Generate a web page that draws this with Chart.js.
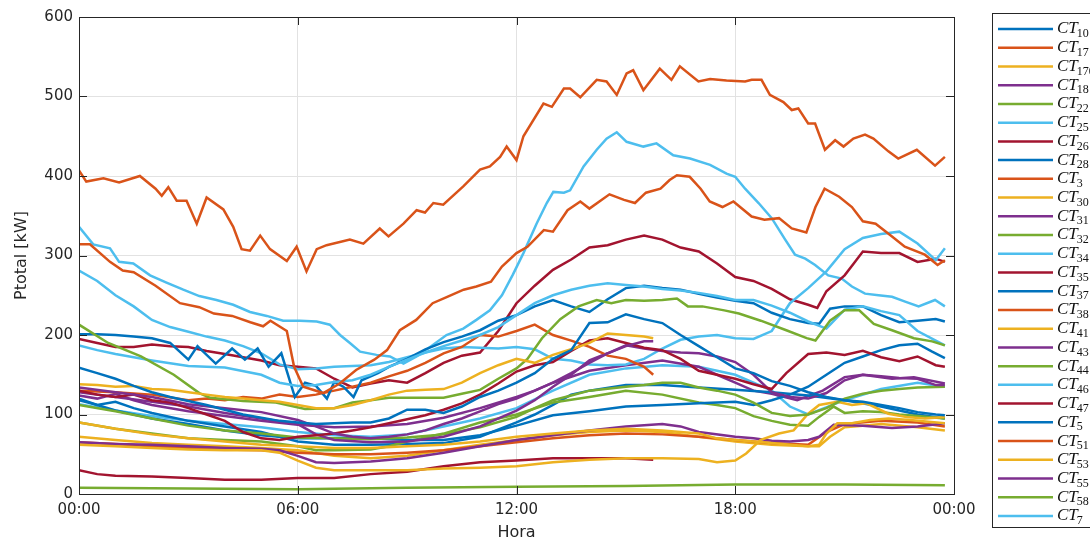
<!DOCTYPE html>
<html>
<head>
<meta charset="utf-8">
<script src="https://cdn.jsdelivr.net/npm/chart.js@4"></script>
<style>
  body { margin: 0; background: #fff; }
  canvas { display: block; }
</style>
</head>
<body>
<canvas id="powerChart" width="1090" height="545"></canvas>
<script>
// hour of day, kW
const ct10 = [[0,159],[0.5,152],[1,145],[1.5,136],[2,128],[2.5,122],[3,117],[3.5,112],[4,106],[4.5,100],[5,96],[5.5,92],[6,90],[6.5,88],[7,89],[7.5,90],[8,90],[8.5,95],[9,106],[9.5,106],[10,102],[10.5,110],[11,122],[11.5,130],[12,140],[12.5,152],[13,170],[13.5,181],[14,215],[14.5,216],[15,226],[15.5,220],[16,215],[16.5,200],[17,186],[17.5,172],[18,158],[18.5,152],[19,142],[19.5,136],[20,128],[20.5,122],[21,118],[21.5,116],[22,112],[22.5,108],[23,103],[23.5,100],[23.75,99]]
const ct17 = [[0,314],[0.3,314],[0.85,292],[1.2,281],[1.5,279],[2.1,262],[2.77,240],[3.3,235],[3.7,227],[4.2,224],[4.7,216],[5.05,211],[5.25,218],[5.7,205],[5.9,160],[6.15,135],[6.7,127],[7.15,139],[7.6,156],[8.1,169],[8.45,181],[8.8,206],[9.25,219],[9.7,240],[10.1,248],[10.55,257],[10.9,261],[11.3,267],[11.6,286],[12,303],[12.3,311],[12.75,332],[13,330],[13.4,357],[13.75,368],[14,359],[14.55,377],[14.95,370],[15.25,366],[15.55,379],[15.95,384],[16.2,395],[16.4,401],[16.75,399],[17.05,384],[17.3,368],[17.65,361],[17.95,368],[18.45,349],[18.8,345],[19.2,347],[19.55,334],[19.95,329],[20.2,361],[20.45,384],[20.85,374],[21.2,361],[21.5,343],[21.85,340],[22.3,324],[22.65,311],[23.2,301],[23.55,288],[23.75,294]]
const ct170 = [[0,138],[0.5,137],[1,135],[1.5,136],[2,132],[2.5,131],[3,128],[3.5,125],[4,122],[4.5,120],[5,118],[5.5,116],[6,112],[6.5,108],[7,108],[7.5,112],[8,118],[8.5,125],[9,130],[9.5,131],[10,132],[10.5,140],[11,152],[11.5,162],[12,170],[12.5,165],[13,175],[13.5,182],[14,190],[14.5,202],[15,200],[15.5,198],[15.75,196]]
const ct18 = [[0,134],[1,128],[2,122],[3,113],[4,108],[5,103],[6,93],[6.5,85],[7,76],[7.5,72],[8,70],[8.5,72],[9,75],[9.5,80],[10,88],[10.5,95],[11,104],[11.5,113],[12,120],[12.5,130],[13,140],[13.5,152],[14,165],[14.5,177],[15,186],[15.5,192],[15.75,192]]
const ct22 = [[0,213],[0.8,190],[1.7,173],[2.6,150],[3.3,127],[3.6,121],[4.5,117],[5.4,115],[6.2,107],[7,108],[7.5,115],[8,118],[8.5,121],[9,121],[10,121],[10.5,126],[11,131],[11.5,145],[12,158],[12.3,170],[12.7,196],[13.2,220],[13.7,236],[14.2,244],[14.6,240],[15,244],[15.5,243],[16,244],[16.4,246],[16.7,236],[17.1,236],[17.7,231],[18.1,227],[18.7,218],[19.4,206],[19.96,196],[20.2,193],[20.6,218],[21,231],[21.4,231],[21.8,214],[22.3,206],[22.9,196],[23.4,192],[23.75,187]]
const ct25 = [[0,187],[0.5,181],[1,176],[1.5,172],[2,168],[3,161],[4,159],[5,150],[5.5,140],[6,136],[6.5,137],[7,141],[7.5,143],[8,150],[8.5,160],[9,169],[9.5,178],[10,186],[10.5,193],[11,200],[11.5,210],[12,225],[12.5,240],[13,250],[13.5,257],[14,262],[14.5,265],[15,263],[15.5,261],[16,258],[16.5,256],[17,253],[17.5,249],[18,244],[18.5,244],[19,237],[19.5,228],[20,217],[20.5,208],[21,232],[21.5,236],[22,230],[22.5,225],[23,205],[23.5,193],[23.75,187]]
const ct26 = [[0,130],[0.5,125],[1,122],[1.5,125],[2,118],[2.5,115],[3,108],[3.5,100],[4,92],[4.5,78],[5,70],[5.5,68],[6,72],[6.5,74],[7,76],[7.5,80],[8,84],[8.5,89],[9,94],[9.5,99],[10,106],[10.5,114],[11,125],[11.5,139],[12,154],[12.5,162],[13,166],[13.5,180],[14,193],[14.5,196],[15,190],[15.5,184],[16,181],[16.5,170],[17,155],[17.5,150],[18,145],[18.5,138],[19,132],[19.4,152],[20,176],[20.5,178],[21,175],[21.5,180],[22,172],[22.5,167],[23,173],[23.5,162],[23.75,160]]
const ct28 = [[0,201],[0.5,201],[1,200],[1.5,198],[2,196],[2.5,190],[3,169],[3.25,186],[3.75,164],[4.2,183],[4.55,169],[4.9,183],[5.2,160],[5.55,177],[5.92,122],[6.2,140],[6.5,136],[6.8,120],[7,141],[7.25,135],[7.53,122],[7.75,143],[8.2,152],[8.5,160],[9,170],[9.5,182],[10,191],[10.5,198],[11,206],[11.5,218],[12,225],[12.5,236],[13,244],[13.5,236],[14,229],[14.5,245],[15,259],[15.5,262],[16,259],[16.5,257],[17,252],[17.5,247],[18,243],[18.5,240],[19,228],[19.5,220],[20,215],[20.3,214],[20.6,233],[21,236],[21.5,236],[22,225],[22.5,216],[23,218],[23.5,220],[23.75,217]]
const ct3 = [[0,130],[1,128],[2,125],[3,118],[3.5,120],[4,118],[4.5,122],[5,120],[5.5,125],[6,122],[6.5,125],[7,130],[7.5,135],[8,140],[8.5,148],[9,155],[9.5,165],[10,177],[10.5,185],[11,200],[11.5,198],[12,205],[12.5,213],[13,200],[13.5,193],[14,185],[14.5,174],[15,170],[15.5,160],[15.75,150]]
const ct30 = [[0,90],[1,82],[2,75],[3,70],[4,66],[5,62],[6,60],[7,58],[8,58],[9,60],[10,62],[11,66],[12,72],[13,76],[14,80],[15,82],[16,80],[17,76],[17.5,70],[18,68],[18.5,66],[19,64],[19.5,62],[20,60],[20.3,62],[20.5,76],[20.8,89],[21.2,89],[21.7,93],[22.2,95],[22.8,93],[23.3,91],[23.75,89]]
const ct31 = [[0,128],[1,122],[2,116],[3,110],[4,102],[5,95],[6,88],[6.5,75],[7,68],[8,65],[9,66],[10,72],[11,85],[12,105],[12.5,118],[13,135],[13.5,150],[14,168],[14.5,177],[15,187],[15.5,183],[16,180],[16.5,178],[17,177],[17.5,173],[18,166],[18.5,150],[19,128],[19.5,122],[20,120],[20.5,127],[21,143],[21.5,150],[22,148],[22.5,146],[23,145],[23.5,137],[23.75,137]]
const ct32 = [[0,112],[1,104],[2,95],[3,86],[4,80],[5,76],[6,71],[7,70],[8,69],[9,71],[10,75],[11,84],[12,97],[12.5,108],[13,118],[13.5,124],[14,130],[15,135],[15.5,137],[16,140],[16.5,140],[17,134],[17.5,130],[18,125],[18.5,115],[19,102],[19.5,98],[20,100],[20.5,108],[21,120],[21.5,126],[22,130],[22.5,132],[23,134],[23.75,135]]
const ct34 = [[0,281],[0.5,268],[1,250],[1.5,236],[2,219],[2.5,210],[3,204],[3.5,198],[4,193],[4.5,186],[5,177],[5.5,163],[6,157],[6.5,158],[7,160],[7.5,161],[8,162],[8.5,166],[9,172],[9.5,178],[10,183],[10.5,185],[11,184],[11.5,183],[12,185],[12.5,182],[13,170],[13.5,168],[14,163],[14.5,162],[15,163],[15.5,170],[16,183],[16.5,194],[17,198],[17.5,200],[18,196],[18.5,195],[19,205],[19.5,240],[20,259],[20.5,280],[21,308],[21.5,322],[22,327],[22.5,330],[23,315],[23.5,294],[23.75,309]]
const ct35 = [[0,195],[0.5,190],[1,185],[1.5,185],[2,188],[2.5,186],[3,185],[3.5,180],[4,176],[4.5,172],[5,168],[5.5,162],[6,160],[6.5,158],[7,145],[7.5,134],[8,139],[8.5,143],[9,140],[9.5,152],[10,165],[10.5,174],[11,178],[11.5,205],[12,240],[12.5,262],[13,282],[13.5,295],[14,310],[14.5,313],[15,320],[15.5,325],[16,320],[16.5,310],[17,305],[17.5,290],[18,273],[18.5,268],[19,258],[19.5,245],[20,238],[20.25,234],[20.5,255],[21,275],[21.25,290],[21.5,305],[22,303],[22.5,303],[23,292],[23.5,296],[23.75,292]]
const ct37 = [[0,120],[0.5,112],[1,105],[2,95],[3,88],[4,80],[5,74],[6,70],[7,70],[8,70],[9,68],[10,68],[11,74],[12,86],[13,99],[14,104],[15,110],[16,112],[17,114],[18,116],[18.5,112],[19,118],[19.5,125],[20,135],[20.5,150],[21,165],[21.5,173],[22,181],[22.5,187],[23,189],[23.4,179],[23.75,171]]
const ct38 = [[0,407],[0.2,393],[0.67,397],[1.1,392],[1.67,400],[2.1,384],[2.27,375],[2.45,386],[2.68,369],[2.95,369],[3.23,340],[3.5,373],[3.96,358],[4.23,336],[4.46,308],[4.69,306],[4.97,325],[5.24,308],[5.7,293],[5.97,311],[6.24,280],[6.52,308],[6.79,313],[7.43,320],[7.8,315],[8.25,334],[8.49,324],[8.9,340],[9.26,357],[9.49,354],[9.72,366],[9.99,364],[10.54,387],[11,408],[11.27,412],[11.55,424],[11.73,437],[12,420],[12.19,450],[12.74,491],[12.97,487],[13.3,510],[13.47,510],[13.75,499],[14.2,521],[14.47,519],[14.75,502],[15.02,529],[15.2,533],[15.48,508],[15.93,535],[16.25,521],[16.48,538],[16.99,519],[17.31,522],[17.76,520],[18.27,519],[18.45,521],[18.72,521],[18.95,502],[19.32,493],[19.55,483],[19.73,485],[20,466],[20.19,466],[20.46,433],[20.74,445],[20.97,437],[21.24,447],[21.56,452],[21.79,447],[22.2,431],[22.47,422],[22.98,433],[23.48,413],[23.75,424]]
const ct41 = [[0,62],[1,60],[2,58],[3,56],[4,55],[5,55],[5.5,52],[6,42],[6.5,33],[7,30],[8,30],[9,30],[10,32],[11,33],[12,35],[13,40],[14,43],[15,45],[16,45],[17,44],[17.5,40],[18,42],[18.3,51],[18.7,68],[19.2,76],[19.6,80],[20,101],[20.3,112],[20.8,116],[21.2,112],[21.6,114],[22.2,101],[22.7,97],[23.2,95],[23.75,97]]
const ct43 = [[0,65],[1,63],[2,62],[3,60],[4,58],[5,57],[5.5,55],[6,48],[6.5,40],[7,39],[8,41],[9,45],[10,52],[11,60],[12,68],[13,74],[14,80],[15,85],[16,88],[16.5,85],[17,78],[18,72],[18.5,70],[19,67],[19.5,66],[20,68],[20.3,72],[20.7,87],[21.5,86],[22.3,83],[23,85],[23.75,89]]
const ct44 = [[0,90],[1,82],[2,76],[3,70],[4,68],[5,66],[6,60],[6.5,55],[7,55],[8,56],[8.5,60],[9,66],[10,76],[11,90],[12,100],[13,115],[14,122],[15,130],[16,125],[17,115],[17.5,112],[18,108],[18.5,98],[19,92],[19.5,87],[20,86],[20.3,97],[20.7,110],[21,102],[21.5,104],[22,103],[22.5,100],[23,98],[23.75,95]]
const ct46 = [[0,336],[0.39,314],[0.85,309],[1.1,292],[1.49,290],[1.95,275],[2.4,266],[2.86,257],[3.3,249],[3.77,244],[4.23,238],[4.69,229],[5.15,224],[5.6,218],[6.06,218],[6.52,217],[6.88,213],[7.16,200],[7.43,190],[7.71,179],[8.16,175],[8.53,173],[8.9,164],[9.26,173],[9.63,185],[10.08,200],[10.54,208],[10.9,219],[11.27,231],[11.6,250],[11.9,276],[12.19,303],[12.55,340],[12.83,366],[13.01,380],[13.3,379],[13.47,382],[13.84,412],[14.2,433],[14.47,447],[14.75,455],[15.02,443],[15.48,437],[15.84,441],[16.3,426],[16.76,422],[17.31,414],[17.76,403],[18,399],[18.27,384],[18.64,366],[19,347],[19.37,320],[19.64,301],[19.92,296],[20.19,288],[20.55,275],[20.92,271],[21.2,261],[21.56,252],[21.93,250],[22.3,248],[22.66,242],[23.03,236],[23.48,244],[23.75,236]]
const ct47 = [[0,30],[0.5,25],[1,23],[2,22],[3,20],[4,18],[5,18],[6,20],[7,20],[8,25],[9,28],[10,35],[11,40],[12,42],[13,45],[14,45],[15,45],[15.75,43]]
const ct5 = [[0,118],[0.5,112],[1,116],[1.5,108],[2,102],[3,92],[4,85],[5,78],[6,66],[7,62],[8,62],[9,63],[10,64],[11,72],[12,90],[12.5,100],[13,112],[13.5,125],[14,130],[15,137],[16,137],[17,134],[18,131],[19,128],[20,124],[21,118],[22,110],[23,100],[23.75,95]]
const ct51 = [[0,65],[1,63],[2,60],[3,58],[4,56],[5,55],[6,52],[7,50],[8,50],[9,52],[10,55],[11,60],[12,65],[13,70],[14,74],[15,76],[16,75],[17,72],[18,68],[19,64],[20,62],[20.5,78],[21,88],[22,92],[23,90],[23.75,85]]
const ct53 = [[0,72],[1,68],[2,64],[3,62],[4,60],[5,58],[6,55],[7,48],[8,45],[9,48],[10,55],[11,62],[12,68],[13,74],[14,78],[15,80],[16,78],[17,72],[18,66],[19,62],[20,60],[20.3,60],[20.6,72],[21,84],[21.5,86],[22,88],[23,84],[23.75,80]]
const ct55 = [[0,124],[0.5,120],[1,126],[1.5,118],[2,112],[3,104],[4,98],[5,92],[6,87],[7,84],[8,85],[9,88],[10,96],[11,108],[12,122],[12.5,130],[13,140],[14,155],[15,162],[16,168],[17,160],[17.5,150],[18,140],[18.5,130],[19,126],[19.7,118],[20.4,130],[21,147],[21.5,150],[22.3,145],[22.9,147],[23.75,139]]
const ct58 = [[0,8],[3,7],[6,6],[9,8],[12,9],[15,10],[18,12],[21,12],[23.75,11]]
const ct7 = [[0,113],[1,105],[2,98],[3,92],[4,88],[5,84],[6,78],[7,74],[8,72],[9,75],[10,85],[11,95],[12,108],[13,130],[14,150],[15,158],[16,162],[17,160],[18,150],[19,130],[19.5,110],[20,100],[21,118],[22,132],[23,140],[23.75,135]]

const seriesList = [ct10, ct17, ct170, ct18, ct22, ct25, ct26, ct28, ct3, ct30, ct31, ct32, ct34, ct35,
    ct37, ct38, ct41, ct43, ct44, ct46, ct47, ct5, ct51, ct53, ct55, ct58, ct7]
const subscripts = ['10','17','170','18','22','25','26','28','3','30','31','32','34','35',
    '37','38','41','43','44','46','47','5','51','53','55','58','7']
const hourTicks = ['00:00', '06:00', '12:00', '18:00', '00:00']
const lineColors = ['#0072BD', '#D95319', '#EDB120', '#7E2F8E', '#77AC30', '#4DBEEE', '#A2142F']

const axisColor = '#262626'

// MATLAB style box, inward ticks and the legend on the right
const matlabLook = {
    id: 'matlabLook',
    afterDraw(chart) {
        const ctx = chart.ctx
        const area = chart.chartArea
        const xs = chart.scales.x
        const ys = chart.scales.y
        ctx.save()
        ctx.strokeStyle = axisColor
        ctx.lineWidth = 1
        ctx.strokeRect(area.left + 0.5, area.top + 0.5, area.right - area.left, area.bottom - area.top)
        ctx.beginPath()
        xs.ticks.forEach(t => {
            const px = Math.round(xs.getPixelForValue(t.value)) + 0.5
            ctx.moveTo(px, area.bottom); ctx.lineTo(px, area.bottom - 8)
            ctx.moveTo(px, area.top); ctx.lineTo(px, area.top + 8)
        })
        ys.ticks.forEach(t => {
            const py = Math.round(ys.getPixelForValue(t.value)) + 0.5
            ctx.moveTo(area.left, py); ctx.lineTo(area.left + 8, py)
            ctx.moveTo(area.right, py); ctx.lineTo(area.right - 8, py)
        })
        ctx.stroke()

        // legend
        const boxLeft = area.right + 38
        const boxTop = 13
        const rowH = 18.73
        ctx.fillStyle = '#fff'
        ctx.fillRect(boxLeft, boxTop, 200, 514)
        ctx.strokeStyle = axisColor
        ctx.strokeRect(boxLeft + 0.5, boxTop + 0.5, 200, 514)
        ctx.textBaseline = 'middle'
        chart.data.datasets.forEach((ds, i) => {
            const y = boxTop + 16 + i * rowH
            ctx.strokeStyle = ds.borderColor
            ctx.lineWidth = 2.5
            ctx.beginPath()
            ctx.moveTo(boxLeft + 6, y)
            ctx.lineTo(boxLeft + 61, y)
            ctx.stroke()
            ctx.fillStyle = '#111'
            ctx.font = 'italic 17px "Liberation Serif"'
            ctx.fillText('CT', boxLeft + 65, y)
            const w = ctx.measureText('CT').width
            ctx.font = '12px "Liberation Serif"'
            ctx.fillText(subscripts[i], boxLeft + 64 + w, y + 5)
        })
        ctx.restore()
    }
}

const datasets = seriesList.map((pts, i) => ({
    label: 'CT' + subscripts[i],
    data: pts.map(([h, v]) => ({ x: h, y: v })),
    borderColor: lineColors[i % lineColors.length],
    borderWidth: 2.5,
    pointRadius: 0,
    tension: 0,
    fill: false
}))

const ctx = document.getElementById('powerChart').getContext('2d')
const powerChart = new Chart(ctx, {
    type: 'line',
    data: { datasets: datasets },
    options: {
        responsive: false,
        animation: false,
        devicePixelRatio: 1,
        layout: { padding: { top: 17, right: 136, left: 0, bottom: 0 } },
        plugins: {
            legend: { display: false },
            tooltip: { enabled: false }
        },
        scales: {
            x: {
                type: 'linear',
                min: 0,
                max: 24,
                afterFit: s => { s.height = 51 },
                ticks: {
                    stepSize: 6,
                    padding: 7,
                    color: axisColor,
                    font: { family: 'DejaVu Sans', size: 15 },
                    callback: v => hourTicks[v / 6]
                },
                grid: { color: '#e2e2e2', drawTicks: false },
                border: { color: axisColor },
                title: {
                    display: true,
                    text: 'Hora',
                    color: axisColor,
                    font: { family: 'DejaVu Sans', size: 16 },
                    padding: { top: 0, bottom: 3 }
                }
            },
            y: {
                min: 0,
                max: 600,
                afterFit: s => { s.width = 79 },
                ticks: {
                    stepSize: 100,
                    padding: 6,
                    color: axisColor,
                    font: { family: 'DejaVu Sans', size: 15 }
                },
                grid: { color: '#e2e2e2', drawTicks: false },
                border: { color: axisColor },
                title: {
                    display: true,
                    text: 'Ptotal [kW]',
                    color: axisColor,
                    font: { family: 'DejaVu Sans', size: 16 },
                    padding: { top: 12, bottom: 0 }
                }
            }
        }
    },
    plugins: [matlabLook]
})
</script>
</body>
</html>
